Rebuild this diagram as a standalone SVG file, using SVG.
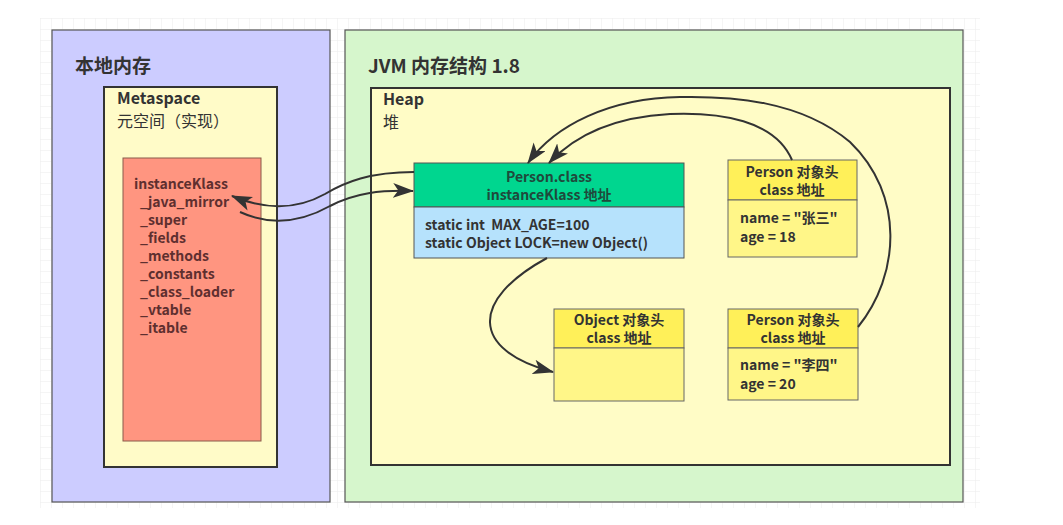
<svg xmlns="http://www.w3.org/2000/svg" width="1063" height="525" viewBox="0 0 1063 525">
  <defs>
    <pattern id="grid" x="40" y="18" width="11" height="11" patternUnits="userSpaceOnUse">
      <path d="M11 0 L0 0 0 11" fill="none" stroke="#ececec" stroke-width="1"/>
    </pattern>
    <marker id="arrow" viewBox="0 0 20 14" refX="19" refY="7" markerWidth="21" markerHeight="15" orient="auto" markerUnits="userSpaceOnUse">
      <path d="M0 0 L20 7 L0 14 L5 7 Z" fill="#333"/>
    </marker>
  </defs>
  <style>
    text { font-family: "Noto Sans CJK SC", "Noto Sans", sans-serif; font-weight: bold; fill: #333; white-space: pre; }
    .title { font-size: 19px; }
    .sub { font-size: 16px; }
    .sm { font-size: 14px; }
    .red text { fill: #5e2f2f; }
    .edge { fill: none; stroke: #333; stroke-width: 2; marker-end: url(#arrow); }
    .c { text-anchor: middle; }
  </style>
  <rect width="1063" height="525" fill="#ffffff"/>
  <rect x="40" y="18" width="940" height="490" fill="url(#grid)"/>

  <g id="native">
    <rect x="52" y="30" width="278" height="472" fill="#ccccff" stroke="#555" stroke-width="1.2"/>
    <text class="title" x="75" y="73">本地内存</text>
  </g>
  <g id="metaspace">
    <rect x="104" y="87" width="173" height="380" fill="#fffbc8" stroke="#333" stroke-width="2"/>
    <text class="sub" x="117" y="104">Metaspace</text>
    <text class="sub" x="117" y="127" style="font-weight:normal">元空间（实现）</text>
  </g>
  <g id="instanceKlass" class="red">
    <rect x="123" y="158" width="138" height="283" fill="#ff9580" stroke="#8a5a4a" stroke-width="1"/>
    <text class="sm" x="134" y="189">instanceKlass</text>
    <text class="sm" x="140" y="207">_java_mirror</text>
    <text class="sm" x="140" y="225">_super</text>
    <text class="sm" x="140" y="243">_fields</text>
    <text class="sm" x="140" y="261">_methods</text>
    <text class="sm" x="140" y="279">_constants</text>
    <text class="sm" x="140" y="297">_class_loader</text>
    <text class="sm" x="140" y="315">_vtable</text>
    <text class="sm" x="140" y="333">_itable</text>
  </g>

  <g id="jvm">
    <rect x="345" y="30" width="618" height="472" fill="#d6f6cc" stroke="#555" stroke-width="1.2"/>
    <text class="title" x="368" y="73">JVM 内存结构 1.8</text>
  </g>
  <g id="heap">
    <rect x="371" y="88" width="579" height="377" fill="#fffcc6" stroke="#333" stroke-width="2"/>
    <text class="sub" x="383" y="105">Heap</text>
    <text class="sub" x="383" y="128" style="font-weight:normal">堆</text>
  </g>

  <g id="personClass">
    <rect x="414" y="163" width="270" height="44" fill="#00d68f" stroke="#555" stroke-width="1"/>
    <rect x="414" y="207" width="270" height="51" fill="#b6e2fc" stroke="#555" stroke-width="1"/>
    <text class="sm c" x="549" y="182" style="fill:#1f4a3c">Person.class</text>
    <text class="sm c" x="549" y="200" style="fill:#1f4a3c">instanceKlass 地址</text>
    <text class="sm" x="425" y="230">static int  MAX_AGE=100</text>
    <text class="sm" x="425" y="248">static Object LOCK=new Object()</text>
  </g>

  <g id="person1">
    <rect x="728" y="160" width="129" height="40" fill="#fff059" stroke="#666" stroke-width="1"/>
    <rect x="728" y="200" width="129" height="57" fill="#fff688" stroke="#666" stroke-width="1"/>
    <text class="sm c" x="792" y="177">Person 对象头</text>
    <text class="sm c" x="792" y="195">class 地址</text>
    <text class="sm" x="740" y="223">name = "张三"</text>
    <text class="sm" x="740" y="242">age = 18</text>
  </g>

  <g id="object">
    <rect x="554" y="309" width="130" height="39" fill="#fff059" stroke="#666" stroke-width="1"/>
    <rect x="554" y="348" width="130" height="53" fill="#fff688" stroke="#666" stroke-width="1"/>
    <text class="sm c" x="619" y="325">Object 对象头</text>
    <text class="sm c" x="619" y="343">class 地址</text>
  </g>

  <g id="person2">
    <rect x="728" y="309" width="130" height="39" fill="#fff059" stroke="#666" stroke-width="1"/>
    <rect x="728" y="348" width="130" height="52" fill="#fff688" stroke="#666" stroke-width="1"/>
    <text class="sm c" x="793" y="325">Person 对象头</text>
    <text class="sm c" x="793" y="343">class 地址</text>
    <text class="sm" x="740" y="370">name = "李四"</text>
    <text class="sm" x="740" y="389">age = 20</text>
  </g>

  <g id="connectors">
    <path class="edge" d="M414,172 C370,172 345,182 325,194 C300,208 270,212 232,196"/>
    <path class="edge" d="M240,212 C275,228 305,220 330,206 C355,193 380,190 413,191"/>
    <path class="edge" d="M792,160 C775,120 720,112 670,114 C615,117 575,135 549,163"/>
    <path class="edge" d="M858,327 C900,275 905,195 850,142 C800,100 730,96 680,97 C610,98 555,125 528,163"/>
    <path class="edge" d="M547,258 C470,300 470,350 553,372"/>
  </g>
</svg>
